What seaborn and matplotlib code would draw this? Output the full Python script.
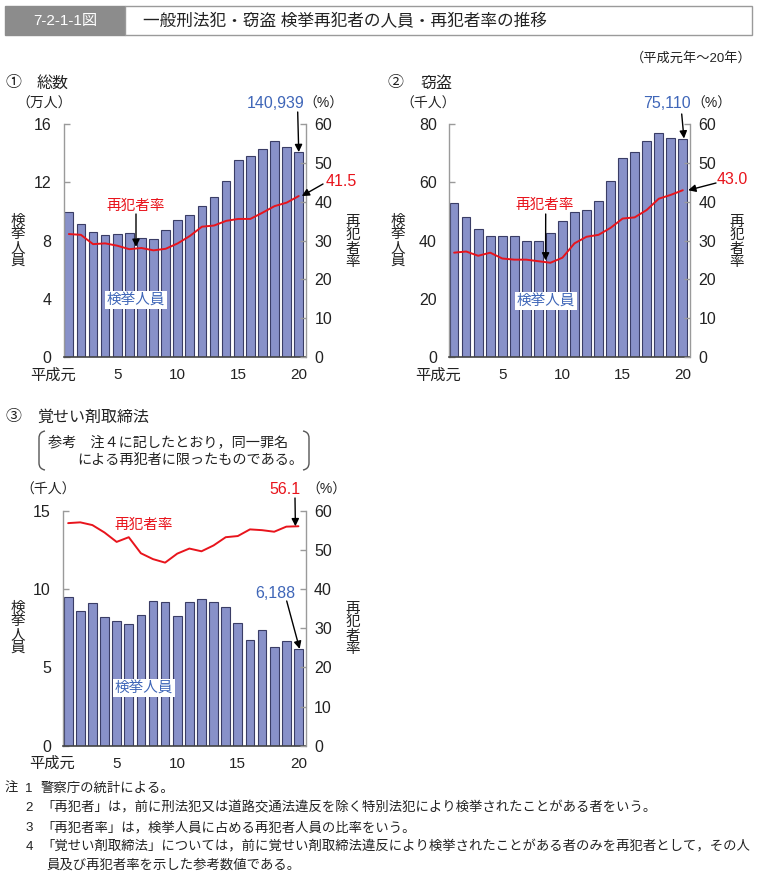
import numpy as np
import pandas as pd
import seaborn as sns
import matplotlib
matplotlib.use("Agg")
import matplotlib.pyplot as plt
from matplotlib.path import Path
from matplotlib.patches import PathPatch, Rectangle
import matplotlib.transforms as mtrans

# ---------------- data ----------------
years = list(range(1, 21))  # 平成元年～20年
xtick_pos = [1, 5, 10, 15, 20]
xtick_labels = ["平成元", "5", "10", "15", "20"]

# ① 総数 (万人, %)
total_arrests = [9.94, 9.16, 8.59, 8.36, 8.43, 8.52, 8.20, 8.08, 8.75, 9.39,
                 9.78, 10.35, 10.97, 12.10, 13.52, 13.84, 14.30, 14.88, 14.46, 14.09]
total_rate = [31.7, 31.5, 29.1, 29.3, 28.7, 27.8, 28.1, 27.5, 27.9, 29.3,
              31.2, 33.6, 33.9, 35.1, 35.6, 35.6, 37.2, 38.9, 39.8, 41.5]

# ② 窃盗 (千人, %)
theft_arrests = [52.8, 48.0, 43.9, 41.6, 41.6, 41.6, 40.0, 40.0, 42.8, 46.7,
                 49.9, 50.4, 53.5, 60.4, 68.3, 70.4, 74.2, 76.9, 75.2, 75.11]
theft_rate = [26.9, 27.2, 26.1, 26.9, 25.4, 25.1, 25.1, 24.7, 24.3, 25.6,
              29.3, 31.0, 31.5, 33.3, 35.7, 36.0, 37.9, 40.8, 41.8, 43.0]

# ③ 覚せい剤取締法 (千人, %)
stim_arrests = [9.48, 8.61, 9.10, 8.23, 7.95, 7.78, 8.37, 9.27, 9.21, 8.29,
                9.21, 9.40, 9.21, 8.89, 7.86, 6.75, 7.37, 6.31, 6.67, 6.188]
stim_rate = [56.9, 57.1, 56.4, 54.5, 52.1, 53.3, 49.2, 47.7, 46.8, 49.1,
             50.4, 49.7, 51.2, 53.3, 53.6, 55.3, 55.1, 54.7, 56.0, 56.1]

# ---------------- style ----------------
BAR = "#8891c9"
EDGE = "#3a3d66"
RED = "#e8141c"
BLUE = "#3f66b8"
TXT = "#222222"
SPINE = "#9a9a9a"

sns.set_theme(style="white")
plt.rcParams["font.family"] = ["Liberation Sans", "Noto Sans CJK JP", "DejaVu Sans"]

W, H = 759, 874
fig = plt.figure(figsize=(W / 100, H / 100), dpi=100)
fig.patch.set_facecolor("white")


def rect_px(x0, y0, x1, y1):
    return [x0 / W, 1 - y1 / H, (x1 - x0) / W, (y1 - y0) / H]


def panel(rect, arrests, rate, ymax, yticks):
    ax = fig.add_axes(rect)
    sns.barplot(x=years, y=arrests, native_scale=True, ax=ax, color=BAR,
                edgecolor=EDGE, linewidth=0.8, width=0.72, saturation=1,
                errorbar=None)
    ax2 = ax.twinx()
    sns.lineplot(x=years, y=rate, ax=ax2, color=RED, linewidth=1.4)
    for a in (ax, ax2):
        a.set_xlim(0.6, 20.6)
        a.set_xlabel("")
        a.set_ylabel("")
        a.grid(False)
    ax.set_ylim(0, ymax)
    ax.set_yticks(yticks)
    ax.set_yticklabels([str(v) for v in yticks])
    ax2.set_ylim(0, 60)
    ax2.set_yticks(range(0, 61, 10))
    ax.set_xticks(xtick_pos)
    ax.set_xticklabels(xtick_labels)
    ax.tick_params(axis="y", direction="in", length=4, color=SPINE, width=1,
                   labelsize=11.5, labelcolor=TXT, pad=9)
    ax.tick_params(axis="x", length=0, labelsize=11, labelcolor=TXT, pad=8)
    ax2.tick_params(axis="y", direction="in", length=4, color=SPINE, width=1,
                    labelsize=11.5, labelcolor=TXT, pad=6)
    for s in ("top", "right"):
        ax.spines[s].set_visible(False)
    for s in ("top", "left", "bottom"):
        ax2.spines[s].set_visible(False)
    ax.spines["left"].set_color(SPINE)
    ax.spines["left"].set_linewidth(1)
    ax.spines["bottom"].set_color("#444444")
    ax.spines["bottom"].set_linewidth(1.2)
    ax2.spines["right"].set_color(SPINE)
    ax2.spines["right"].set_linewidth(1)
    # shift first x label (平成元) a bit
    lab = ax.get_xticklabels()[0]
    lab.set_horizontalalignment("right")
    lab.set_transform(lab.get_transform() +
                      mtrans.ScaledTranslation(7 / 100, 0, fig.dpi_scale_trans))
    return ax, ax2


ax1, ax1r = panel(rect_px(64, 124.3, 306, 357), total_arrests, total_rate, 16, [0, 4, 8, 12, 16])
ax2_, ax2r = panel(rect_px(449.3, 124.3, 690, 357), theft_arrests, theft_rate, 80, [0, 20, 40, 60, 80])
ax3, ax3r = panel(rect_px(63.3, 511, 305.7, 745.7), stim_arrests, stim_rate, 15, [0, 5, 10, 15])

# ---------------- overlay in pixel coordinates ----------------
ov = fig.add_axes([0, 0, 1, 1], zorder=10)
ov.set_xlim(0, W)
ov.set_ylim(H, 0)
ov.axis("off")

# header
ov.add_patch(Rectangle((5, 6), 120, 29, facecolor="#8c8c8c", edgecolor="#8c8c8c", lw=1))
ov.add_patch(Rectangle((125, 6), 627, 29, facecolor="white", edgecolor="#9a9a9a", lw=1))
ov.text(65, 21, "7-2-1-1図", color="white", fontsize=11, ha="center", va="center")
ov.text(143, 21, "一般刑法犯・窃盗 検挙再犯者の人員・再犯者率の推移", color=TXT,
        fontsize=12, ha="left", va="center")
ov.text(752, 58, "（平成元年～20年）", color=TXT, fontsize=9.5, ha="right", va="center")

# section titles
ov.text(5, 83, "①", color=TXT, fontsize=11.5, ha="left", va="center")
ov.text(37, 83, "総数", color=TXT, fontsize=11.5, ha="left", va="center")
ov.text(387, 83, "②", color=TXT, fontsize=11.5, ha="left", va="center")
ov.text(420, 83, "窃盗", color=TXT, fontsize=11.5, ha="left", va="center")
ov.text(5, 417, "③", color=TXT, fontsize=11.5, ha="left", va="center")
ov.text(37, 417, "覚せい剤取締法", color=TXT, fontsize=11.5, ha="left", va="center")

# units
ov.text(44, 104, "（万人）", color=TXT, fontsize=10, ha="center", va="center")
ov.text(323, 104, "（%）", color=TXT, fontsize=10, ha="center", va="center")
ov.text(428, 104, "（千人）", color=TXT, fontsize=10, ha="center", va="center")
ov.text(711, 104, "（%）", color=TXT, fontsize=10, ha="center", va="center")
ov.text(48, 490, "（千人）", color=TXT, fontsize=10, ha="center", va="center")
ov.text(326, 490, "（%）", color=TXT, fontsize=10, ha="center", va="center")

# vertical axis labels
vl = "検\n挙\n人\n員"
vr = "再\n犯\n者\n率"
for (x, y, s) in [(18, 241, vl), (353, 242, vr), (398, 241, vl), (737, 242, vr),
                  (18, 628, vl), (353, 629, vr)]:
    ov.text(x, y, s, color=TXT, fontsize=10.5, ha="center", va="center", linespacing=0.95)

# in-chart labels
box = dict(boxstyle="square,pad=0.15", facecolor="white", edgecolor="none")
ov.text(136, 206, "再犯者率", color=RED, fontsize=10.5, ha="center", va="center")
ov.text(136, 300, "検挙人員", color=BLUE, fontsize=10.5, ha="center", va="center", bbox=box)
ov.text(545, 205, "再犯者率", color=RED, fontsize=10.5, ha="center", va="center")
ov.text(546, 301, "検挙人員", color=BLUE, fontsize=10.5, ha="center", va="center", bbox=box)
ov.text(144, 525, "再犯者率", color=RED, fontsize=10.5, ha="center", va="center")
ov.text(144, 688, "検挙人員", color=BLUE, fontsize=10.5, ha="center", va="center", bbox=box)

# value labels
ov.text(305, 104, "140,939", color=BLUE, fontsize=11.5, ha="right", va="center")
ov.text(357, 181, "41.5", color=RED, fontsize=11.5, ha="right", va="center")
ov.text(691, 104, "75,110", color=BLUE, fontsize=11.5, ha="right", va="center")
ov.text(748, 180, "43.0", color=RED, fontsize=11.5, ha="right", va="center")
ov.text(301, 490, "56.1", color=RED, fontsize=11.5, ha="right", va="center")
ov.text(295, 593, "6,188", color=BLUE, fontsize=11.5, ha="right", va="center")

arrow = dict(arrowstyle="-|>", color="black", lw=1, mutation_scale=11, shrinkA=0, shrinkB=0)


def arr(tail, ax, xy):
    ov.annotate("", xy=xy, xycoords=ax.transData, xytext=tail, textcoords=ov.transData,
                arrowprops=arrow)


arr((297.7, 112), ax1, (20, total_arrests[-1]))
arr((323, 184), ax1r, (20.25, total_rate[-1]))
arr((136, 214), ax1r, (6.55, 28.4))
arr((681.7, 114), ax2_, (20.1, theft_arrests[-1]))
arr((716, 183), ax2r, (20.45, theft_rate[-1]))
arr((545.7, 214), ax2r, (8.6, 24.9))
arr((295, 498), ax3r, (19.75, stim_rate[-1]))
arr((286.7, 601), ax3, (20.1, stim_arrests[-1]))

# bracket note
bl = Path([(45, 431), (39, 432), (39, 438), (39, 438), (39, 463), (39, 469), (45, 470)],
          [Path.MOVETO, Path.CURVE3, Path.CURVE3, Path.MOVETO, Path.LINETO, Path.CURVE3, Path.CURVE3])
br = Path([(303, 431), (309, 432), (309, 438), (309, 438), (309, 463), (309, 469), (303, 470)],
          [Path.MOVETO, Path.CURVE3, Path.CURVE3, Path.MOVETO, Path.LINETO, Path.CURVE3, Path.CURVE3])
ov.add_patch(PathPatch(bl, facecolor="none", edgecolor="#555555", lw=1))
ov.add_patch(PathPatch(br, facecolor="none", edgecolor="#555555", lw=1))
ov.text(48, 443, "参考　注４に記したとおり，同一罪名", color=TXT, fontsize=10.2, ha="left", va="center")
ov.text(77, 460, "による再犯者に限ったものである。", color=TXT, fontsize=10.2, ha="left", va="center")

# notes
notes = [
    (789, "注", "1", "警察庁の統計による。"),
    (808, "", "2", "「再犯者」は，前に刑法犯又は道路交通法違反を除く特別法犯により検挙されたことがある者をいう。"),
    (828, "", "3", "「再犯者率」は，検挙人員に占める再犯者人員の比率をいう。"),
    (847, "", "4", "「覚せい剤取締法」については，前に覚せい剤取締法違反により検挙されたことがある者のみを再犯者として，その人"),
    (865, "", "", "員及び再犯者率を示した参考数値である。"),
]
for y, a, n, t in notes:
    if a:
        ov.text(5, y, a, color=TXT, fontsize=9.6, ha="left", va="center")
    if n:
        ov.text(29, y, n, color=TXT, fontsize=9.6, ha="center", va="center")
    ov.text(41 if n else 46, y, t, color=TXT, fontsize=9.6, ha="left", va="center")

fig.savefig("out.png", dpi=100)
